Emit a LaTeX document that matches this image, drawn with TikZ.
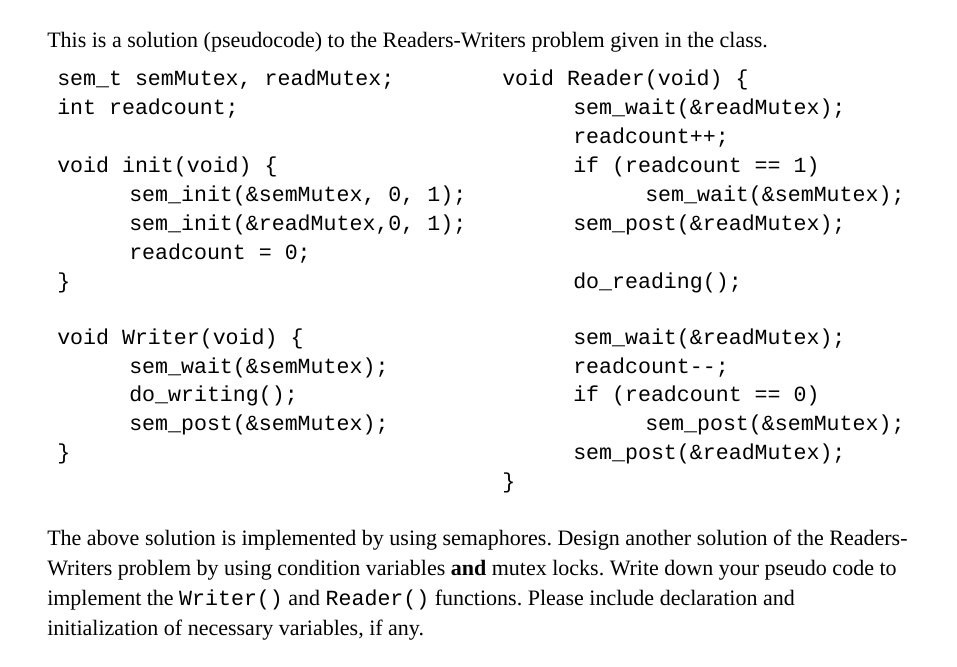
\documentclass[tikz,border=0pt]{standalone}
\usepackage{fontspec}
\setmainfont{Liberation Serif}
\setmonofont{Liberation Mono}
\frenchspacing
\tikzset{
    prose/.style={anchor=base west, inner sep=0pt, font=\fontsize{16.5}{19}\selectfont},
    code/.style={anchor=base west, inner sep=0pt, font=\ttfamily\fontsize{16.2}{18}\selectfont}
}
\begin{document}
\begin{tikzpicture}[x=0.75pt, y=-0.75pt]
    \useasboundingbox (0,0) rectangle (957,667);

    % Heading line
    \node[prose] (intro) at (47,48) {This is a solution (pseudocode) to the Readers-Writers problem given in the class.};

    % Left column: declarations, init and writer
    \foreach \x/\y/\txt [count=\i] in {
        57/86/{sem\_t semMutex, readMutex;},
        57/114/{int readcount;},
        57/172/{void init(void) \{},
        129/201/{sem\_init(\&semMutex, 0, 1);},
        129/230/{sem\_init(\&readMutex,0, 1);},
        129/259/{readcount = 0;},
        57/288/{\}},
        57/344/{void Writer(void) \{},
        129/373/{sem\_wait(\&semMutex);},
        129/401/{do\_writing();},
        129/430/{sem\_post(\&semMutex);},
        57/459/{\}}} {
        \node[code] (left\i) at (\x,\y) {\txt};
    }

    % Right column: reader
    \foreach \x/\y/\txt [count=\i] in {
        502/86/{void Reader(void) \{},
        573/114/{sem\_wait(\&readMutex);},
        573/143/{readcount++;},
        573/172/{if (readcount == 1)},
        645/201/{sem\_wait(\&semMutex);},
        573/230/{sem\_post(\&readMutex);},
        573/288/{do\_reading();},
        573/344/{sem\_wait(\&readMutex);},
        573/373/{readcount--;},
        573/401/{if (readcount == 0)},
        645/430/{sem\_post(\&semMutex);},
        573/459/{sem\_post(\&readMutex);},
        502/488/{\}}} {
        \node[code] (right\i) at (\x,\y) {\txt};
    }

    % Question text
    \node[prose] (q1) at (47,545) {The above solution is implemented by using semaphores. Design another solution of the Readers-};
    \node[prose] (q2) at (47,575) {Writers problem by using condition variables \textbf{and} mutex locks. Write down your pseudo code to};
    \node[prose] (q3) at (47,605) {implement the \texttt{\fontsize{16.2}{18}\selectfont Writer()} and \texttt{\fontsize{16.2}{18}\selectfont Reader()} functions. Please include declaration and};
    \node[prose] (q4) at (47,635) {initialization of necessary variables, if any.};
\end{tikzpicture}
\end{document}
